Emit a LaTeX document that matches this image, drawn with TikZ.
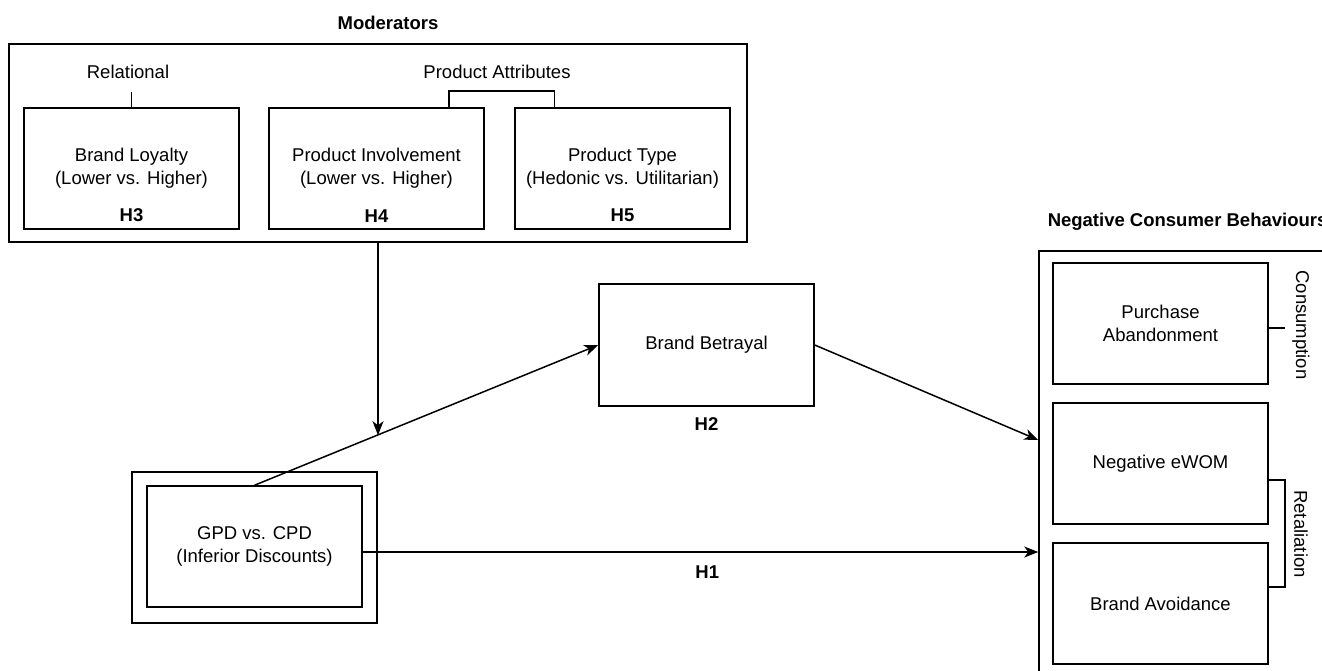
\documentclass[tikz,border=0pt]{standalone}
\usepackage{fontspec}
\setmainfont{Liberation Sans}
\usetikzlibrary{arrows.meta,positioning,calc}

\newcommand{\boxfont}{\fontsize{18.5}{23}\selectfont}

\begin{document}
\begin{tikzpicture}[x=1pt,y=-1pt,
    every node/.style={font=\boxfont},
    box/.style={draw,line width=1.5pt,minimum width=215pt,minimum height=121pt,align=center,inner sep=0pt},
    frame/.style={draw,line width=1.5pt,inner sep=0pt},
    hl/.style={font=\boxfont\bfseries,inner sep=0pt},
    line width=1.5pt,
    >={Stealth[length=14pt,width=11pt,inset=4pt]}]
\useasboundingbox (0,0) rectangle (1322,670);
\clip (0,0) rectangle (1322,670);

% moderators
\node [frame,minimum width=738pt,minimum height=198pt] (mod) at (378,143) {};
\node [hl] at (388,23) {Moderators};
\node [box] (bl) at (131.5,168.5) {Brand Loyalty\\(Lower vs. Higher)};
\node [box] (pi) at (376.5,168.5) {Product Involvement\\(Lower vs. Higher)};
\node [box] (pt) at (622.5,168.5) {Product Type\\(Hedonic vs. Utilitarian)};
\node [hl,above=7pt of bl.south] {H3};
\node [hl,above=7pt of pi.south] {H4};
\node [hl,above=7pt of pt.south] {H5};
\node (rel) at (128,72) {Relational};
\coordinate (relend) at (131.5,92);
\draw (bl) -- (relend);
\node (pat) at (497,72) {Product Attributes};
\coordinate (pabar) at (501.5,91);
\draw ([xshift=-36pt]pi.north east) |- (pabar) -| ([xshift=40pt]pt.north west);

% discounts and betrayal
\node [frame,minimum width=245pt,minimum height=151pt] (gpd) at (254.5,547.5) {};
\node [box] (gpdi) at (254.5,546.5) {GPD vs. CPD\\(Inferior Discounts)};
\node [box,minimum height=122pt] (bb) at (706.5,345) {Brand Betrayal};
\node [hl,below=10.5pt of bb.south] {H2};

% negative behaviours
\node [frame,minimum width=298pt,minimum height=425pt] (ncb) at (1188,463.5) {};
\node [hl,anchor=west] at (1047,222) {Negative Consumer Behaviours};
\node [box] (pab) at (1160.5,323.5) {Purchase\\Abandonment};
\node [box] (ew) at (1160.5,463.5) {Negative eWOM};
\node [box] (ba) at (1160.5,603.5) {Brand Avoidance};
\coordinate (ctick) at (1285,328);
\draw (pab.east |- ctick) -- (ctick);
\node [rotate=-90] at (1301,325) {Consumption};
\coordinate (rt) at (1285,533.5);
\draw ([yshift=-16.5pt]ew.east) -| (rt) |- ([yshift=16.5pt]ba.east);
\node [rotate=-90] at (1301,534) {Retaliation};

\coordinate (hit) at ($(gpdi.north)!0.357!(bb.west)$);
\path[->] (mod.south) edge (mod.south |- hit)
          (gpdi.north) edge (bb.west)
          (bb.east) edge ([yshift=23.5pt]ncb.west)
          ([yshift=-5.5pt]gpdi.east) edge node [hl,below=13.5pt,pos=0.51] {H1} ([yshift=-5.5pt]gpdi.east -| ncb.west);
\end{tikzpicture}
\end{document}
